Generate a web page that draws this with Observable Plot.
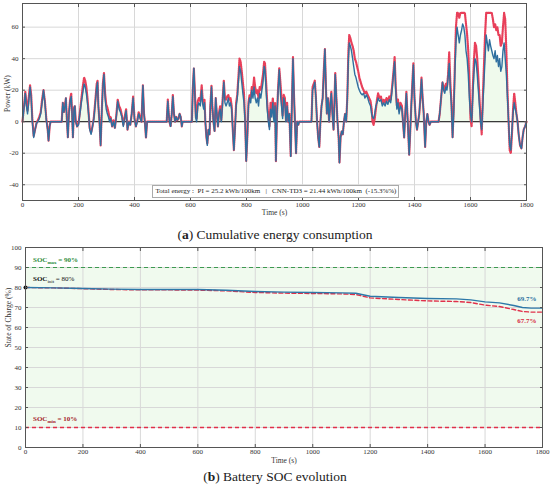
<!DOCTYPE html>
<html><head><meta charset="utf-8">
<script src="https://cdn.jsdelivr.net/npm/d3@7"></script>
<script src="https://cdn.jsdelivr.net/npm/@observablehq/plot@0.6"></script>
<style>
body{margin:0;background:#fff;}
#wrap{position:relative;width:550px;height:489px;font-family:"Liberation Serif",serif;overflow:hidden;}
.panel{position:absolute;left:0;}
.cap{position:absolute;left:0;width:550px;text-align:center;font-size:13.5px;color:#222;font-family:"Liberation Serif",serif;}
.ann{position:absolute;white-space:nowrap;font-size:7px;line-height:8px;font-family:"Liberation Serif",serif;}
.ann sub{font-size:5px;vertical-align:-2px;}
.box{position:absolute;white-space:pre;font-size:7px;border:1px solid #aaa;background:#fff;text-align:center;line-height:11px;font-family:"Liberation Serif",serif;color:#222;}
</style></head><body><div id="wrap"></div>
<script>
// ---- Panel (a): power traces ----
const powerTime = [0,5,10,14,18,22,27,31,35,40,45,50,55,60,65,70,75,80,85,90,93,97,100,140,144,148,152,155,158,162,166,170,174,177,180,184,187,190,195,200,205,210,215,220,224,228,232,236,240,245,250,255,260,265,268,271,275,279,283,287,291,295,299,303,307,311,315,320,325,330,335,340,345,350,355,360,365,370,375,380,385,390,395,400,405,410,415,420,425,430,434,437,441,445,515,519,522,525,529,533,537,541,545,549,553,557,561,565,569,572,605,608,612,615,619,622,626,630,635,640,643,647,650,653,657,660,664,668,671,675,678,682,686,690,694,698,702,706,710,714,719,723,727,731,735,739,743,747,751,755,759,763,767,771,775,779,783,787,791,795,799,803,807,811,815,819,823,827,831,835,839,843,847,851,855,859,863,866,870,874,878,882,886,890,894,898,902,905,909,913,917,921,925,929,933,937,941,945,949,953,958,962,966,970,974,977,981,985,988,1032,1036,1040,1044,1048,1052,1056,1060,1064,1068,1072,1076,1080,1084,1087,1091,1095,1099,1103,1107,1111,1114,1117,1121,1125,1129,1132,1136,1140,1144,1148,1152,1156,1160,1164,1167,1171,1175,1179,1183,1187,1191,1195,1199,1203,1208,1213,1218,1223,1228,1233,1238,1243,1247,1250,1254,1258,1262,1266,1270,1275,1280,1285,1290,1295,1300,1305,1310,1315,1320,1325,1329,1333,1337,1341,1345,1350,1355,1359,1363,1367,1371,1376,1381,1385,1389,1393,1396,1400,1405,1409,1413,1417,1421,1425,1429,1433,1438,1442,1446,1450,1454,1458,1486,1490,1495,1500,1504,1508,1512,1516,1520,1524,1528,1532,1536,1540,1544,1548,1552,1556,1560,1564,1568,1572,1576,1580,1584,1588,1592,1596,1600,1604,1608,1612,1616,1620,1624,1628,1632,1636,1640,1644,1648,1652,1656,1660,1664,1668,1672,1676,1680,1684,1688,1692,1696,1700,1704,1708,1712,1716,1720,1724,1728,1732,1736,1740,1744,1748,1752,1756,1760,1764,1768,1772,1777,1782,1786,1790,1795,1800];
const cnnPower = [0,8,18,10,5,12,22,15,0,-10,-5,-1,0,2,5,12,20,12,1,-5,-12,-3,0,0,12,6,10,15,3,-10,5,13,16,5,-10,8,10,0,-3,-2,5,12,18,24,22,18,12,5,-5,-8,-3,2,12,22,25,10,0,-15,5,22,30,15,8,5,3,0,2,-3,0,-4,3,13,8,6,3,-3,2,7,-5,0,-2,5,15,2,-3,0,5,2,0,23,5,0,-10,0,0,13,5,0,-3,5,16,5,0,3,1,2,5,3,-3,0,0,20,34,20,2,0,10,12,10,20,12,8,12,0,-10,-15,-5,-8,10,22,10,0,-6,15,5,-3,5,8,0,10,25,12,10,12,15,10,12,8,-5,-18,-5,10,15,25,35,32,25,18,12,0,-25,-10,10,15,12,20,15,22,15,12,15,10,18,15,20,25,35,33,20,8,0,-5,8,3,12,0,10,-25,5,20,33,18,10,2,15,12,0,10,0,5,-22,10,40,15,-5,-20,0,-2,0,0,20,22,25,15,0,-10,-16,0,10,15,30,46,20,5,15,0,10,18,5,-5,10,30,15,0,-10,-26,-10,-6,-8,0,5,0,15,40,50,48,45,40,35,30,28,25,22,20,18,17,18,15,17,15,12,10,5,3,2,5,10,12,15,13,14,10,12,10,13,11,14,12,20,30,38,20,8,12,5,10,8,0,-10,5,18,0,-21,-5,12,25,36,15,0,-5,0,5,15,27,15,5,-16,0,5,0,-2,0,0,5,15,25,20,18,22,20,28,37,20,10,-10,5,30,50,60,55,50,55,58,62,60,55,45,40,30,15,5,0,15,30,40,38,30,20,10,0,-5,10,25,40,55,50,45,52,48,45,42,40,45,38,42,35,40,32,35,45,50,40,30,15,0,-15,-18,-5,5,12,8,5,0,-8,-15,-17,-10,-5,-3,0];
const piPower = [0,9,19,12,7,15,23,17,2,-9,-5,-1,1,3,6,14,20,13,2,-5,-12,-3,0,0,12,6,11,15,3,-10,6,14,18,6,-10,9,10,1,-3,-1,6,14,22,28,26,22,15,6,-4,-7,-3,3,13,24,26,10,0,-15,6,24,31,18,11,9,6,2,3,-3,1,-4,4,14,10,8,4,-2,3,8,-5,0,-2,5,16,2,-3,1,6,3,0,23,5,0,-10,0,0,14,6,0,-3,5,17,5,0,3,1,2,5,3,-3,0,0,20,34,22,3,2,13,15,13,23,15,10,14,0,-10,-14,-5,-8,10,23,10,0,-6,15,5,-3,6,10,1,12,26,15,14,16,17,14,15,10,-5,-18,-4,12,17,28,40,38,32,25,18,2,-25,-10,12,17,15,22,20,28,22,18,20,15,22,20,25,30,38,37,25,12,3,-3,12,7,15,2,12,-25,5,22,34,25,15,4,17,15,1,12,0,5,-22,10,41,15,-5,-20,0,-2,0,0,22,24,26,15,0,-10,-16,0,10,15,32,46,20,5,15,0,10,19,5,-5,12,31,15,0,-10,-26,-10,-6,-8,0,5,0,15,45,55,53,50,48,45,40,38,35,32,28,25,22,20,18,19,17,15,13,8,0,-2,2,8,14,18,15,16,12,14,12,15,13,16,14,22,32,41,22,10,14,7,12,10,0,-10,5,19,0,-21,-5,12,27,37,15,0,-5,0,5,15,28,15,5,-16,0,5,0,-2,0,0,5,15,25,22,20,24,22,30,44,25,12,-10,8,35,60,69,69,66,69,69,69,69,69,62,55,45,25,2,-3,20,38,50,48,40,28,15,2,-8,15,35,55,69,69,69,69,69,69,65,60,62,58,60,55,55,48,50,60,69,65,45,20,0,-18,-20,-8,8,18,12,5,0,-8,-15,-17,-10,-5,-3,0];
const timeTicks = [0,200,400,600,800,1000,1200,1400,1600,1800];
const powerTicks = [-40,-20,0,20,40,60];
const energyNote = "Total energy :  PI = 25.2 kWh/100km   |   CNN-TD3 = 21.44 kWh/100km  (-15.3%%)";

// ---- Panel (b): SOC ----
const socTime = [0,100,200,300,400,500,600,700,800,900,1000,1100,1150,1200,1300,1400,1500,1550,1600,1650,1700,1730,1760,1800];
const socCNN = [80,79.8,79.5,79.2,79,79,79,78.6,78,77.7,77.5,77.3,77.1,75.6,75,74.5,74.3,73.8,72.8,72.3,71,70,69.7,69.7];
const socPI  = [80,79.8,79.4,79,78.8,78.8,78.7,78.3,77.5,77.2,77,76.8,76.5,74.8,74,73.3,73,72.5,71.2,70.5,69,68,67.7,67.7];
const socTicks = [0,10,20,30,40,50,60,70,80,90,100];
const socMax = 90, socMin = 10, socInit = 80;
const finalLabels = ["69.7%","67.7%"];

const wrap = document.getElementById("wrap");
const axisStyle = {fontFamily: "Liberation Serif, serif", fontSize: "7px", color: "#333", background: "transparent", overflow: "visible"};
const plain = d => String(d);

const powerData = powerTime.map((t, i) => ({t, cnn: cnnPower[i], pi: piPower[i]}));
const chartA = Plot.plot({
  width: 550, height: 222,
  marginLeft: 22, marginRight: 24, marginTop: 3, marginBottom: 22,
  style: axisStyle,
  x: {domain: [0, 1800]},
  y: {domain: [-50, 75]},
  marks: [
    Plot.gridX(timeTicks, {stroke: "#d8d8d8", strokeOpacity: 1}),
    Plot.gridY(powerTicks, {stroke: "#d8d8d8", strokeOpacity: 1}),
    Plot.areaY(powerData, {x: "t", y1: 0, y2: d => Math.max(0, d.cnn), fill: "#effaec"}),
    Plot.ruleY([0], {stroke: "#3a3a3a", strokeWidth: 1.2}),
    Plot.line(powerData, {x: "t", y: "pi", stroke: "#e8405a", strokeWidth: 2.2, strokeDasharray: "1,1"}),
    Plot.line(powerData, {x: "t", y: "cnn", stroke: "#2f6f9f", strokeWidth: 1.4}),
    Plot.axisX(timeTicks, {tickSize: -3, tickPadding: 5, label: null, stroke: "#555", tickFormat: plain}),
    Plot.axisX(timeTicks, {anchor: "top", tickSize: -3, tickFormat: () => "", label: null, stroke: "#555"}),
    Plot.axisY(powerTicks, {tickSize: -3, tickPadding: 7, label: null, stroke: "#555", tickFormat: plain}),
    Plot.axisY(powerTicks, {anchor: "right", tickSize: -3, tickFormat: () => "", label: null, stroke: "#555"}),
    Plot.frame({stroke: "#555"}),
    Plot.text(["Time (s)"], {frameAnchor: "bottom", dy: 14, fontSize: 7.5}),
    Plot.text(["Power (kW)"], {frameAnchor: "left", rotate: -90, dx: -15, dy: 10, fontSize: 7.5})
  ]
});
chartA.classList.add("panel");
chartA.style.top = "0px";
wrap.appendChild(chartA);

// energy note box (positioned with the plot's own scales)
{
  const xs = chartA.scale("x"), ys = chartA.scale("y");
  const box = document.createElement("div");
  box.className = "box";
  box.textContent = energyNote;
  const cx = xs.apply(905);
  box.style.left = (cx - 123) + "px";
  box.style.width = "245px";
  box.style.top = (ys.apply(-44.6) - 6.5) + "px";
  box.style.height = "11px";
  wrap.appendChild(box);
}

const capA = document.createElement("div");
capA.className = "cap";
capA.style.top = "227px";
capA.innerHTML = "(<b>a</b>) Cumulative energy consumption";
wrap.appendChild(capA);

const socData = socTime.map((t, i) => ({t, cnn: socCNN[i], pi: socPI[i]}));
const last = socData[socData.length - 1];
const chartB = Plot.plot({
  width: 550, height: 232,
  marginLeft: 25, marginRight: 8, marginTop: 7, marginBottom: 25,
  style: axisStyle,
  x: {domain: [0, 1800]},
  y: {domain: [0, 100]},
  marks: [
    Plot.rect([{x1: socTime[0], x2: socTime[socTime.length - 1], y1: socMin, y2: socMax}], {x1: "x1", x2: "x2", y1: "y1", y2: "y2", fill: "#f0faee"}),
    Plot.gridX(timeTicks, {stroke: "#d8d8d8", strokeOpacity: 1}),
    Plot.gridY(socTicks, {stroke: "#d8d8d8", strokeOpacity: 1}),
    Plot.ruleY([socMax], {stroke: "#3d9a50", strokeWidth: 1, strokeDasharray: "4,3"}),
    Plot.ruleY([socMin], {stroke: "#e0304a", strokeWidth: 1.3, strokeDasharray: "4,3"}),
    Plot.line(socData, {x: "t", y: "pi", stroke: "#e0304a", strokeWidth: 1.4, strokeDasharray: "4,2.5"}),
    Plot.line(socData, {x: "t", y: "cnn", stroke: "#2d78a8", strokeWidth: 1.4}),
    Plot.dot([socInit], {x: () => socTime[0], y: d => d, fill: "#111", r: 2}),
    Plot.text([last], {x: "t", y: "cnn", text: () => finalLabels[0], textAnchor: "end", dx: -6, dy: -9.5, fill: "#2b6e9e", fontWeight: "bold", fontSize: 7}),
    Plot.text([last], {x: "t", y: "pi", text: () => finalLabels[1], textAnchor: "end", dx: -6, dy: 9, fill: "#d7263d", fontWeight: "bold", fontSize: 7}),
    Plot.axisX(timeTicks, {tickSize: -3, tickPadding: 5, label: null, stroke: "#555", tickFormat: plain}),
    Plot.axisX(timeTicks, {anchor: "top", tickSize: -3, tickFormat: () => "", label: null, stroke: "#555"}),
    Plot.axisY(socTicks, {tickSize: -3, tickPadding: 7, label: null, stroke: "#555", tickFormat: plain}),
    Plot.axisY(socTicks, {anchor: "right", tickSize: -3, tickFormat: () => "", label: null, stroke: "#555"}),
    Plot.frame({stroke: "#555"}),
    Plot.text(["Time (s)"], {frameAnchor: "bottom", dy: 15.5, fontSize: 7.5}),
    Plot.text(["State of Charge (%)"], {frameAnchor: "left", rotate: -90, dx: -17, fontSize: 7.5})
  ]
});
chartB.classList.add("panel");
chartB.style.top = "240px";
wrap.appendChild(chartB);

{
  const xs = chartB.scale("x"), ys = chartB.scale("y");
  const left = xs.apply(socTime[0]) + 8;
  const mk = (html, color, val, off) => {
    const d = document.createElement("div");
    d.className = "ann";
    d.style.color = color;
    d.style.left = left + "px";
    d.style.top = (240 + ys.apply(val) - off) + "px";
    d.innerHTML = html;
    wrap.appendChild(d);
  };
  mk("<b>SOC<sub>max</sub> = 90%</b>", "#2e8b3a", socMax, 11);
  mk("<b>SOC</b><sub>init</sub> = 80%", "#111", socInit, 12);
  mk("<b>SOC<sub>min</sub> = 10%</b>", "#a51d2d", socMin, 12);
}

const capB = document.createElement("div");
capB.className = "cap";
capB.style.top = "469px";
capB.innerHTML = "(<b>b</b>) Battery SOC evolution";
wrap.appendChild(capB);
</script></body></html>
